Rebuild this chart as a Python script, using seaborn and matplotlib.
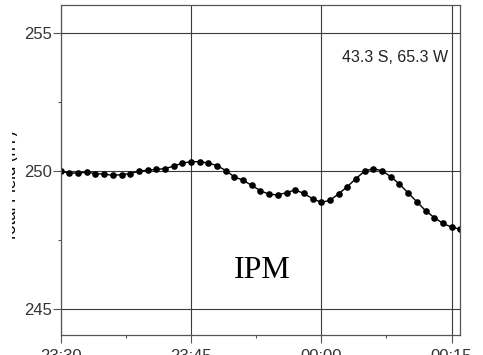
import numpy as np
import pandas as pd
import matplotlib
matplotlib.use("Agg")
import matplotlib.pyplot as plt
from matplotlib.transforms import Bbox
import seaborn as sns

# ---- data (one reading per minute) ----
minutes = list(range(47))
field_nT = [249.98, 249.92, 249.92, 249.95, 249.90, 249.88, 249.84, 249.86, 249.90, 249.99,
            250.02, 250.05, 250.08, 250.17, 250.28, 250.33, 250.33, 250.28, 250.19, 250.01,
            249.78, 249.66, 249.47, 249.28, 249.15, 249.13, 249.21, 249.31, 249.18, 248.99,
            248.86, 248.93, 249.17, 249.43, 249.72, 249.99, 250.08, 250.00, 249.79, 249.52,
            249.20, 248.88, 248.56, 248.31, 248.10, 247.96, 247.89]
xtick_pos = [0, 15, 30, 45]
xtick_labels = ["23:30", "23:45", "00:00", "00:15"]
ytick_pos = [245, 250, 255]
location_label = "43.3 S, 65.3 W"
station_label = "IPM"
ylabel_text = "Total Field (nT)"

df = pd.DataFrame({"minute": minutes, "field": field_nT})

sns.set_style("white")
plt.rcParams["font.family"] = ["Liberation Sans", "DejaVu Sans"]

fig = plt.figure(figsize=(4.83, 3.55), dpi=100)
ax = fig.add_axes([60.7 / 483, 1 - 335 / 355, (460 - 60.7) / 483, (335 - 5) / 355])

sns.lineplot(data=df, x="minute", y="field", ax=ax, color="black", linewidth=1.0,
             marker="o", markersize=4.8, markeredgewidth=0, markerfacecolor="black")

ax.set_xlim(0, 45.97)
ax.set_ylim(244.06, 256.0)

ax.set_xticks(xtick_pos)
ax.set_xticklabels(xtick_labels)
ax.set_xticks([7.5, 22.5, 37.5], minor=True)
ax.set_yticks(ytick_pos)
ax.set_yticklabels([str(v) for v in ytick_pos])
ax.set_yticks([247.5, 252.5], minor=True)

ax.grid(True, which="major", color="#3a3a3a", linewidth=0.8)
ax.set_xlabel("")
ax.set_ylabel("")

for s in ax.spines.values():
    s.set_color("#555555")
    s.set_linewidth(0.9)

ax.tick_params(axis="both", which="major", direction="out", length=5.5, width=0.8,
               color="#555555", labelsize=12, labelcolor="#333333")
ax.tick_params(axis="both", which="minor", direction="out", length=2.5, width=0.8,
               color="#555555")
ax.tick_params(axis="y", which="major", pad=0.5)
ax.tick_params(axis="x", which="major", pad=4.5)
ax.tick_params(left=True, bottom=True, which="both")

ax.text(44.6, 254.1, location_label, ha="right", va="center", fontsize=11.5,
        color="#222222")
ax.text(23.17, 246.38, station_label, ha="center", va="center", fontsize=23,
        family=["Liberation Serif", "DejaVu Serif"], color="black")

# y-axis label: only a thin sliver of it is visible in the reference
yl = fig.text(19 / 483, 1 - 186 / 355, ylabel_text, rotation=90, ha="right", va="center",
              fontsize=12, color="black")
yl.set_clip_box(Bbox.from_extents(12, 355 - 252, 16.5, 355 - 120))
yl.set_clip_on(True)

fig.savefig("out.png", dpi=100)
